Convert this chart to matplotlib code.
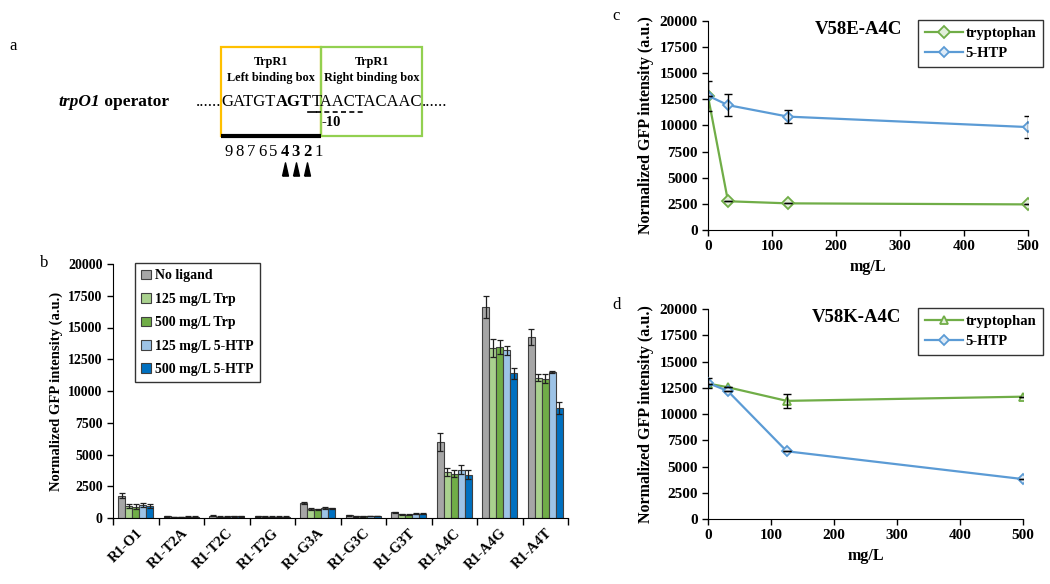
import numpy as np
import matplotlib
matplotlib.use("Agg")
import matplotlib.pyplot as plt
from matplotlib.patches import Rectangle

plt.rcParams['font.family'] = ['Liberation Serif', 'DejaVu Serif']
plt.rcParams['font.weight'] = 'bold'
plt.rcParams['axes.labelweight'] = 'bold'

# ---- panel b data ----
variants = ["R1-O1", "R1-T2A", "R1-T2C", "R1-T2G", "R1-G3A",
            "R1-G3C", "R1-G3T", "R1-A4C", "R1-A4G", "R1-A4T"]
conditions = ["No ligand", "125 mg/L Trp", "500 mg/L Trp",
              "125 mg/L 5-HTP", "500 mg/L 5-HTP"]
no_ligand = [1750, 120, 180, 130, 1180, 220, 450, 6000, 16600, 14250]
trp_125 = [950, 90, 110, 100, 700, 130, 280, 3600, 13400, 11050]
trp_500 = [900, 90, 110, 100, 680, 130, 260, 3500, 13500, 10950]
htp_125 = [1050, 100, 120, 110, 800, 150, 330, 3800, 13200, 11500]
htp_500 = [950, 100, 120, 110, 750, 150, 320, 3400, 11400, 8650]
err_no_ligand = [200, 30, 30, 30, 80, 30, 60, 700, 850, 600]
err_trp_125 = [150, 20, 20, 20, 60, 20, 40, 300, 700, 300]
err_trp_500 = [200, 20, 20, 20, 60, 20, 40, 300, 550, 350]
err_htp_125 = [150, 20, 20, 20, 60, 20, 40, 350, 350, 100]
err_htp_500 = [150, 20, 20, 20, 60, 20, 40, 350, 450, 500]

# ---- panels c/d data ----
dose = [0, 31.25, 125, 500]
c_trp = [12800, 2750, 2550, 2450]
c_htp = [12850, 11950, 10850, 9850]
c_trp_err = [0, 0, 0, 0]
c_htp_err = [1450, 1050, 650, 1050]
d_trp = [12900, 12550, 11250, 11650]
d_htp = [12950, 12200, 6450, 3800]
d_trp_err = [0, 0, 650, 0]
d_htp_err = [450, 0, 0, 0]

# ---- panel a text ----
sequence_left = "GATGT"
sequence_bold = "AGT"
sequence_right = "TAACTACAAC"
positions = ["9", "8", "7", "6", "5", "4", "3", "2", "1"]
bold_positions = ["4", "3", "2"]

fig = plt.figure(figsize=(10.5, 5.84), dpi=100)

# panel a drawn in pixel coordinates of the figure
ax_a = fig.add_axes([0, 0, 1, 1])
ax_a.set_xlim(0, 1050)
ax_a.set_ylim(584, 0)
ax_a.axis("off")

ax_a.text(9, 46, "a", fontsize=12, fontweight="normal", va="center")
ax_a.add_patch(Rectangle((221, 47), 100, 89, fill=False, ec="#ffc000", lw=1.6))
ax_a.add_patch(Rectangle((321, 47), 101, 89, fill=False, ec="#92d050", lw=1.6))
ax_a.plot([221, 321], [136, 136], color="black", lw=3, solid_capstyle="butt")
ax_a.text(271, 70, "TrpR1\nLeft binding box", ha="center", va="center",
          fontsize=8.8, linespacing=1.35)
ax_a.text(372, 70, "TrpR1\nRight binding box", ha="center", va="center",
          fontsize=8.8, linespacing=1.35)

t = ax_a.text(58, 110, "trpO1", fontsize=12.5, style="italic", va="bottom")
ax_a.annotate(" operator", xy=(1, 0), xycoords=t, fontsize=12.5, va="bottom")

ax_a.text(221, 110, "......", fontsize=12, fontweight="normal",
          ha="right", va="bottom")
t = ax_a.text(221, 110, sequence_left, fontsize=12, fontweight="normal",
              va="bottom")
t = ax_a.annotate(sequence_bold, xy=(1, 0), xycoords=t, fontsize=12, va="bottom")
t = ax_a.annotate(sequence_right, xy=(1, 0), xycoords=t, fontsize=12,
                  fontweight="normal", va="bottom")
ax_a.annotate("......", xy=(1, 0), xycoords=t, fontsize=12,
              fontweight="normal", va="bottom")

ax_a.plot([308, 316], [112, 112], color="black", lw=1.2)
ax_a.plot([316, 364], [112, 112], color="black", lw=1.2, ls=(0, (3, 2)))
ax_a.text(322, 123, "-10", fontsize=10.5, va="center")

for i, p in enumerate(positions):
    w = "bold" if p in bold_positions else "normal"
    ax_a.text(228.5 + i * 11.25, 152, p, fontsize=12, fontweight=w,
              ha="center", va="center")
tri = [(-0.45, -1), (0.45, -1), (0, 1), (-0.45, -1)]
for i, p in enumerate(positions):
    if p in bold_positions:
        ax_a.plot(228.5 + i * 11.25, 169, marker=tri, color="black",
                  markersize=9.5, linestyle="none")

# panel b
ax_b = fig.add_axes([113 / 1050, 66 / 584, 455 / 1050, 254 / 584])
colors = ["#a6a6a6", "#a9d18e", "#70ad47", "#9dc3e6", "#0070c0"]
series = [no_ligand, trp_125, trp_500, htp_125, htp_500]
errs = [err_no_ligand, err_trp_125, err_trp_500, err_htp_125, err_htp_500]
x = np.arange(len(variants))
width = 0.153
for k in range(5):
    ax_b.bar(x + (k - 2) * width, series[k], width, color=colors[k],
             edgecolor="#404040", linewidth=0.8, label=conditions[k],
             yerr=errs[k], capsize=2,
             error_kw=dict(ecolor="#202020", elinewidth=0.9, capthick=0.9))
ax_b.set_xlim(-0.5, len(variants) - 0.5)
ax_b.set_ylim(0, 20000)
ax_b.set_yticks(np.arange(0, 20001, 2500))
ax_b.set_xticks(x)
ax_b.set_xticklabels(variants, rotation=45, ha="right", rotation_mode="anchor")
ax_b.set_xticks(np.arange(-0.5, len(variants), 1), minor=True)
ax_b.tick_params(axis="x", which="major", length=0, labelsize=10.5, pad=6)
ax_b.tick_params(axis="x", which="minor", length=5, width=1)
ax_b.tick_params(axis="y", length=4, width=1, labelsize=10)
for s in ["top", "right"]:
    ax_b.spines[s].set_visible(False)
ax_b.set_ylabel("Normalized GFP intensity (a.u.)", fontsize=10.5)
ax_b.legend(loc="upper left", bbox_to_anchor=(0.048, 1.003), fontsize=10,
            frameon=True, fancybox=False, edgecolor="black",
            handlelength=0.7, handleheight=0.7, handletextpad=0.3,
            labelspacing=0.75, borderpad=0.45, borderaxespad=0)
fig.text(40 / 1050, 1 - 263 / 584, "b", fontsize=12, fontweight="normal", va="center")


def dose_panel(ax, trp, trp_err, htp, htp_err, trp_marker, title):
    ax.errorbar(dose, htp, yerr=htp_err, fmt="none", ecolor="black",
                elinewidth=1, capsize=3, zorder=4)
    ax.errorbar(dose, trp, yerr=trp_err, fmt="none", ecolor="black",
                elinewidth=1, capsize=3, zorder=4)
    ax.plot(dose, trp, color="#70ad47", marker=trp_marker, markersize=6,
            markerfacecolor="#e2efda", markeredgewidth=1.3, lw=1.6,
            label="tryptophan", zorder=3)
    ax.plot(dose, htp, color="#5b9bd5", marker="D", markersize=5,
            markerfacecolor="#deebf7", markeredgewidth=1.3, lw=1.6,
            label="5-HTP", zorder=3)
    ax.set_xlim(0, 500)
    ax.set_ylim(0, 20000)
    ax.set_yticks(np.arange(0, 20001, 2500))
    ax.set_xticks(np.arange(0, 501, 100))
    ax.tick_params(length=4, width=1, labelsize=11)
    for s in ["top", "right"]:
        ax.spines[s].set_visible(False)
    ax.set_xlabel("mg/L", fontsize=11.5)
    ax.set_ylabel("Normalized GFP intensity (a.u.)", fontsize=11.5)
    ax.set_title(title, fontsize=13.5, fontweight="bold", x=0.47, y=0.9)
    ax.legend(loc="upper right", fontsize=10.5, frameon=True, fancybox=False,
              edgecolor="black", handlelength=2.6, handletextpad=0.2,
              borderpad=0.45, labelspacing=0.5, borderaxespad=0)


ax_c = fig.add_axes([708 / 1050, 1 - 230 / 584, 320 / 1050, 209 / 584])
dose_panel(ax_c, c_trp, c_trp_err, c_htp, c_htp_err, "D", "V58E-A4C")
ax_c.get_legend().set_bbox_to_anchor((1.047, 1.005), transform=ax_c.transAxes)
fig.text(612 / 1050, 1 - 16 / 584, "c", fontsize=12, fontweight="normal", va="center")

ax_d = fig.add_axes([708 / 1050, 1 - 519 / 584, 315 / 1050, 210 / 584])
dose_panel(ax_d, d_trp, d_trp_err, d_htp, d_htp_err, "^", "V58K-A4C")
ax_d.get_legend().set_bbox_to_anchor((1.063, 1.005), transform=ax_d.transAxes)
fig.text(612 / 1050, 1 - 305 / 584, "d", fontsize=12, fontweight="normal", va="center")

fig.savefig("out.png", dpi=100)
